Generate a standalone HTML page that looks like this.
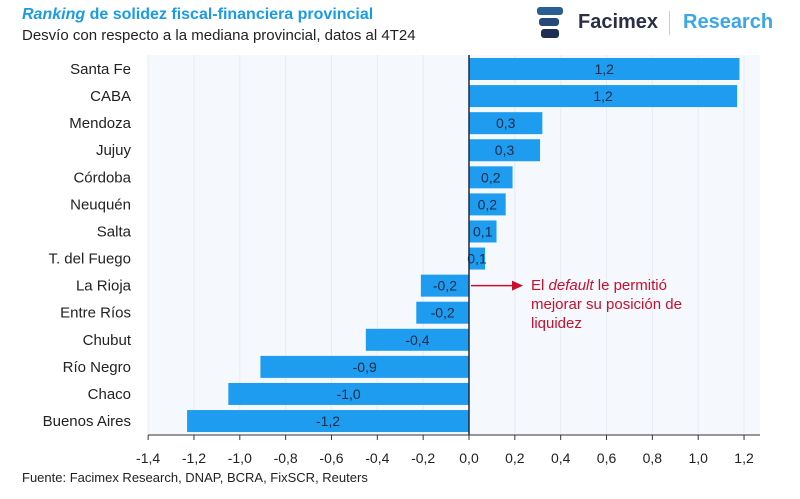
<!DOCTYPE html>
<html><head><meta charset="utf-8"><style>
body{margin:0;width:800px;height:499px;background:#fff;font-family:"Liberation Sans",sans-serif;overflow:hidden;position:relative}
.t{position:absolute;white-space:nowrap}
</style></head><body>
<div class="t" style="left:22px;top:6px;font-size:16px;font-weight:bold;color:#1a9be8"><i>Ranking</i> de solidez fiscal-financiera provincial</div>
<div class="t" style="left:22px;top:27px;font-size:15px;color:#222">Desvío con respecto a la mediana provincial, datos al 4T24</div>
<div style="position:absolute;left:535px;top:5px;width:260px;height:36px">
<svg width="40" height="36"><rect x="2" y="2" width="26" height="8" rx="3" fill="#2a5f93"/><rect x="4" y="13" width="20" height="8" rx="3" fill="#254a78"/><rect x="6" y="24" width="18" height="9" rx="3" fill="#1d2f52"/></svg>
<span class="t" style="left:43px;top:6px;font-size:20px;font-weight:bold;color:#2b2f45">Facimex</span>
<span class="t" style="left:134px;top:6px;width:1px;height:24px;background:#ccc"></span>
<span class="t" style="left:148px;top:6px;font-size:20px;font-weight:bold;color:#3ba6ea">Research</span>
</div>
<svg id="c" width="800" height="499" style="position:absolute;left:0;top:0"></svg>
<div class="t" style="left:22px;top:470px;font-size:13px;color:#222">Fuente: Facimex Research, DNAP, BCRA, FixSCR, Reuters</div>
<div class="t" style="left:531px;top:276px;font-size:15px;line-height:19px;color:#c8102e">El <i>default</i> le permitió<br>mejorar su posición de<br>liquidez</div>
<script>
const categories=["Santa Fe","CABA","Mendoza","Jujuy","Córdoba","Neuquén","Salta","T. del Fuego","La Rioja","Entre Ríos","Chubut","Río Negro","Chaco","Buenos Aires"];
const values=[1.18,1.17,0.32,0.31,0.19,0.16,0.12,0.07,-0.21,-0.23,-0.45,-0.91,-1.05,-1.23];
const labels=["1,2","1,2","0,3","0,3","0,2","0,2","0,1","0,1","-0,2","-0,2","-0,4","-0,9","-1,0","-1,2"];
const ticks=[-1.4,-1.2,-1.0,-0.8,-0.6,-0.4,-0.2,0,0.2,0.4,0.6,0.8,1.0,1.2];
const tickLabels=["-1,4","-1,2","-1,0","-0,8","-0,6","-0,4","-0,2","0,0","0,2","0,4","0,6","0,8","1,0","1,2"];
const svg=document.getElementById('c');const NS='http://www.w3.org/2000/svg';
const x=v=>469+v*229.2;const y=i=>69+i*27.08;
function mk(t,a){const e=document.createElementNS(NS,t);for(const k in a)e.setAttribute(k,a[k]);svg.appendChild(e);return e;}
const bg=mk('rect',{x:148,y:55,width:612,height:380,fill:'#f5f8fc'});


ticks.forEach((t,i)=>{
 const g=mk('line',{x1:x(t),x2:x(t),y1:55,y2:435,stroke:'#e8edf3'});
 
 
 const tk=mk('line',{x1:x(t),x2:x(t),y1:435,y2:440,stroke:'#333'});
 
 
 const l=mk('text',{x:x(t),y:463,'text-anchor':'middle','font-size':14,fill:'#222','font-family':'Liberation Sans'});
 l.textContent=tickLabels[i];
 
 
});
categories.forEach((c,i)=>{
 const v=values[i];
 const r=mk('rect',{x:Math.min(x(0),x(v)),y:y(i)-11,width:Math.abs(x(v)-x(0)),height:22,fill:'#1e9df0'});
 
 
 const vl=mk('text',{x:(x(0)+x(v))/2,y:y(i)+5,'text-anchor':'middle','font-size':14,fill:'#1e2a44','font-family':'Liberation Sans'});
 vl.textContent=labels[i];
 
 
 const cl=mk('text',{x:131,y:y(i)+5,'text-anchor':'end','font-size':15,fill:'#222','font-family':'Liberation Sans'});
 cl.textContent=c;
 
 
});
const ax=mk('line',{x1:148,x2:760,y1:435,y2:435,stroke:'#333'});


const zl=mk('line',{x1:x(0),x2:x(0),y1:55,y2:435,stroke:'#1e2a44','stroke-width':1.5});


const ar=mk('line',{x1:x(0)+2,x2:x(0)+45,y1:y(8),y2:y(8),stroke:'#c8102e','stroke-width':1.5});


const ah=mk('polygon',{points:`${x(0)+54},${y(8)} ${x(0)+43},${y(8)-5} ${x(0)+43},${y(8)+5}`,fill:'#c8102e'});


</script>
</body></html>
